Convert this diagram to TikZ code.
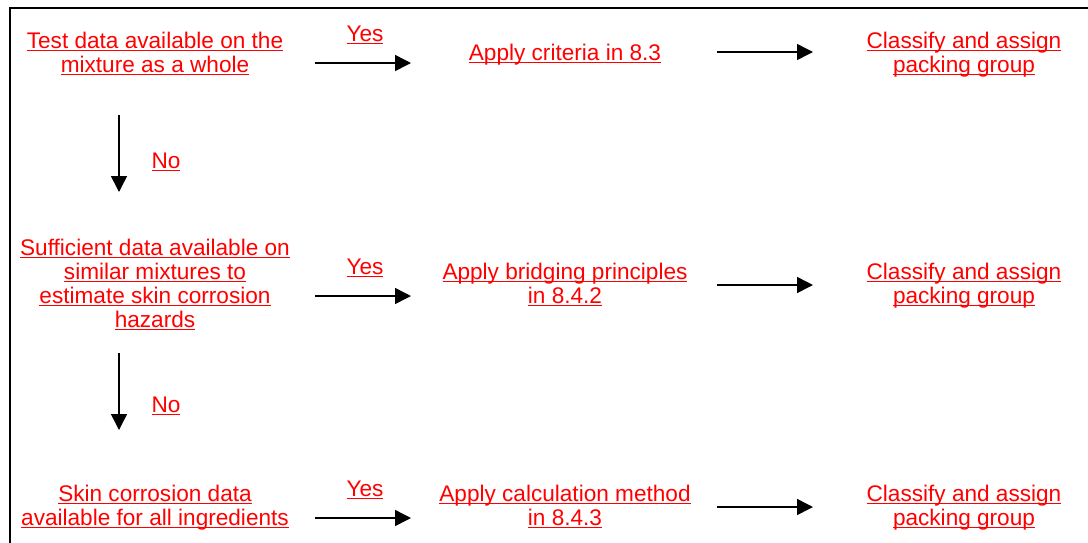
\documentclass[tikz,border=0pt]{standalone}
\usepackage{fontspec}
\setmainfont{Liberation Sans}
\usetikzlibrary{arrows.meta,positioning}
\newcommand{\ulstrut}{\rule[-5pt]{0pt}{22pt}}
\newcommand{\redul}[1]{\setbox0\hbox{\ulstrut#1}\rlap{\rule[-3.4pt]{\wd0}{1.9pt}}\box0}
\tikzset{stepbox/.style={text=red,align=center,inner sep=0pt,
                         font=\fontsize{22.6}{24}\selectfont},
         flow/.style={line width=1.5pt,-{Triangle[length=16pt,width=16pt]}}}

\begin{document}
\begin{tikzpicture}[x=1pt,y=-1pt]
\useasboundingbox (0,0) rectangle (1088,542);
\draw[line width=2.2pt] (10,560) -- (10,8) -- (1100,8);

% first row
\node[stepbox] (test) at (155,54) {\redul{Test data available on the}\\\redul{mixture as a whole}};
\node[stepbox] (crit) at (565,54) {\redul{Apply criteria in 8.3}};
\node[stepbox] (cls1) at (964,54) {\redul{Classify and assign}\\\redul{packing group}};

% second row
\node[stepbox] (suff) at (155,285) {\redul{Sufficient data available on}\\\redul{similar mixtures to}\\\redul{estimate skin corrosion}\\\redul{hazards}};
\node[stepbox] (bridge) at (565,285) {\redul{Apply bridging principles}\\\redul{in 8.4.2}};
\node[stepbox] (cls2) at (964,285) {\redul{Classify and assign}\\\redul{packing group}};

% third row
\node[stepbox] (skin) at (155,507) {\redul{Skin corrosion data}\\\redul{available for all ingredients}};
\node[stepbox] (calc) at (565,507) {\redul{Apply calculation method}\\\redul{in 8.4.3}};
\node[stepbox] (cls3) at (964,507) {\redul{Classify and assign}\\\redul{packing group}};

\coordinate (y1s) at (315,63);  \coordinate (y1e) at (411,63);
\coordinate (r1s) at (717,52);  \coordinate (r1e) at (813,52);
\coordinate (y2s) at (315,296); \coordinate (y2e) at (411,296);
\coordinate (r2s) at (717,285); \coordinate (r2e) at (813,285);
\coordinate (y3s) at (315,518); \coordinate (y3e) at (411,518);
\coordinate (r3s) at (717,507); \coordinate (r3e) at (813,507);
\coordinate (n1s) at (119,115); \coordinate (n1e) at (119,192);
\coordinate (n2s) at (119,353); \coordinate (n2e) at (119,430);

\draw[flow] (y1s) -- (y1e);
\draw[flow] (r1s) -- (r1e);
\draw[flow] (y2s) -- (y2e);
\draw[flow] (r2s) -- (r2e);
\draw[flow] (y3s) -- (y3e);
\draw[flow] (r3s) -- (r3e);
\draw[flow] (n1s) -- (n1e);
\draw[flow] (n2s) -- (n2e);

\node[stepbox] (yes1) at (365,35) {\redul{Yes}};
\node[stepbox] (yes2) at (365,268) {\redul{Yes}};
\node[stepbox] (yes3) at (365,490) {\redul{Yes}};
\node[stepbox] (no1) at (166,162) {\redul{No}};
\node[stepbox] (no2) at (166,406) {\redul{No}};

\end{tikzpicture}
\end{document}
